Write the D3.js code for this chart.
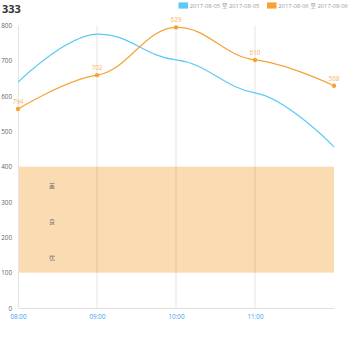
<!DOCTYPE html>
<html>
<head>
<meta charset="utf-8">
<script src="https://cdn.jsdelivr.net/npm/d3@7/dist/d3.min.js"></script>
<style>
  html, body { margin: 0; padding: 0; background: #fff; }
  svg { display: block; font-family: "Open Sans", "Noto Sans CJK SC", sans-serif; }
</style>
</head>
<body>
<svg id="chart" width="350" height="350"></svg>
<script>
// Hourly readings for two days
const times = ["08:00", "09:00", "10:00", "11:00", "12:00"];
const tickTimes = ["08:00", "09:00", "10:00", "11:00"];
const seriesNames = ["2017-08-05 至 2017-08-05", "2017-08-06 至 2017-08-06"];
const day1Values = [639, 775, 702, 609, 456];
const day2Values = [563, 659, 794, 702, 629];
const day2Notes = ["794", "702", "629", "610", "568"];
const yTicks = [0, 100, 200, 300, 400, 500, 600, 700, 800];
// Quality band and its grade labels
const bandRange = [100, 400];
const gradeLabels = ["差", "良", "优"];
const gradeLevels = [345, 243, 141];

const colors = ["#5ccaf5", "#f7a235"];

const svg = d3.select("#chart");
const plotLeft = 18, plotRight = 334, plotTop = 25.3, plotBottom = 308;

const x = d3.scalePoint().domain(times).range([plotLeft, plotRight]);
const y = d3.scaleLinear().domain([0, 800]).range([plotBottom, plotTop]);

// Smooth curve with softened vertical tangents at inner points;
// end points use themselves as control points.
function softCurve(context) {
  let pts = [];
  const k = 0.3;
  return {
    areaStart() {}, areaEnd() {},
    lineStart() { pts = []; },
    point(px, py) { pts.push([+px, +py]); },
    lineEnd() {
      const n = pts.length;
      if (!n) return;
      context.moveTo(pts[0][0], pts[0][1]);
      if (n === 1) return;
      const tan = pts.map((p, i) => {
        if (i === 0 || i === n - 1) return 0;
        const a = pts[i - 1], b = pts[i + 1];
        return k * (b[1] - a[1]) / (b[0] - a[0]);
      });
      for (let i = 0; i < n - 1; i++) {
        const p0 = pts[i], p1 = pts[i + 1];
        const h = (p1[0] - p0[0]) * 0.4;
        const c0 = i === 0 ? p0 : [p0[0] + h, p0[1] + tan[i] * h];
        const c1 = i + 1 === n - 1 ? p1 : [p1[0] - h, p1[1] - tan[i + 1] * h];
        context.bezierCurveTo(c0[0], c0[1], c1[0], c1[1], p1[0], p1[1]);
      }
    }
  };
}

// Title
svg.append("text").attr("x", 2).attr("y", 13)
  .attr("font-size", 11).attr("font-weight", "bold").attr("fill", "#333")
  .text("333");

// Legend
const legend = svg.append("g");
const legendX = [178.5, 267];
seriesNames.forEach((name, i) => {
  legend.append("rect").attr("x", legendX[i]).attr("y", 2.4).attr("width", 9.5).attr("height", 6.2)
    .attr("fill", colors[i]);
  legend.append("text").attr("x", legendX[i] + 11.3).attr("y", 7.6)
    .attr("font-size", 5.5).attr("fill", "#999")
    .attr("textLength", 69.5).attr("lengthAdjust", "spacingAndGlyphs")
    .text(name);
});

// Background band
svg.append("rect")
  .attr("x", plotLeft).attr("width", plotRight - plotLeft)
  .attr("y", y(bandRange[1])).attr("height", y(bandRange[0]) - y(bandRange[1]))
  .attr("fill", "#fbdcb2");

gradeLabels.forEach((g, i) => {
  svg.append("text").attr("x", 52).attr("y", y(gradeLevels[i]) + 2.3)
    .attr("text-anchor", "middle").attr("font-size", 6).attr("fill", "#777").text(g);
});

// Vertical grid lines
svg.append("g").selectAll("line").data(tickTimes.slice(1)).join("line")
  .attr("x1", d => x(d)).attr("x2", d => x(d))
  .attr("y1", plotTop).attr("y2", plotBottom)
  .attr("stroke", "#000").attr("stroke-opacity", 0.1).attr("stroke-width", 1);

// Axes
const yAxis = svg.append("g").attr("transform", `translate(${plotLeft},0)`)
  .call(d3.axisLeft(y).tickValues(yTicks).tickSize(0).tickPadding(6));
yAxis.select(".domain").attr("stroke", "#e6e6e6").attr("stroke-width", 1.2);
yAxis.selectAll("text").attr("font-size", 6.3).attr("fill", "#666").attr("font-family", "Open Sans, sans-serif");

const xAxis = svg.append("g").attr("transform", `translate(0,${plotBottom})`)
  .call(d3.axisBottom(x).tickValues(tickTimes).tickSize(0).tickPadding(7));
xAxis.select(".domain").attr("stroke", "#e0e0e0").attr("stroke-width", 1.2);
xAxis.selectAll("text").attr("font-size", 6.3).attr("fill", "#3aa0ef").attr("font-family", "Open Sans, sans-serif");

// Lines
const line = d3.line().x((d, i) => x(times[i])).y(d => y(d)).curve(softCurve);

[day1Values, day2Values].forEach((vals, i) => {
  svg.append("path").datum(vals).attr("d", line)
    .attr("fill", "none").attr("stroke", colors[i]).attr("stroke-width", 1.2);
});

// Markers and notes on the second day
svg.append("g").selectAll("circle").data(day2Values).join("circle")
  .attr("cx", (d, i) => x(times[i])).attr("cy", d => y(d)).attr("r", 2.2)
  .attr("fill", colors[1]);

svg.append("g").selectAll("text").data(day2Values).join("text")
  .attr("x", (d, i) => x(times[i])).attr("y", d => y(d) - 5)
  .attr("text-anchor", "middle").attr("font-size", 6.5).attr("fill", "#f8b66a")
  .text((d, i) => day2Notes[i]);
</script>
</body>
</html>
